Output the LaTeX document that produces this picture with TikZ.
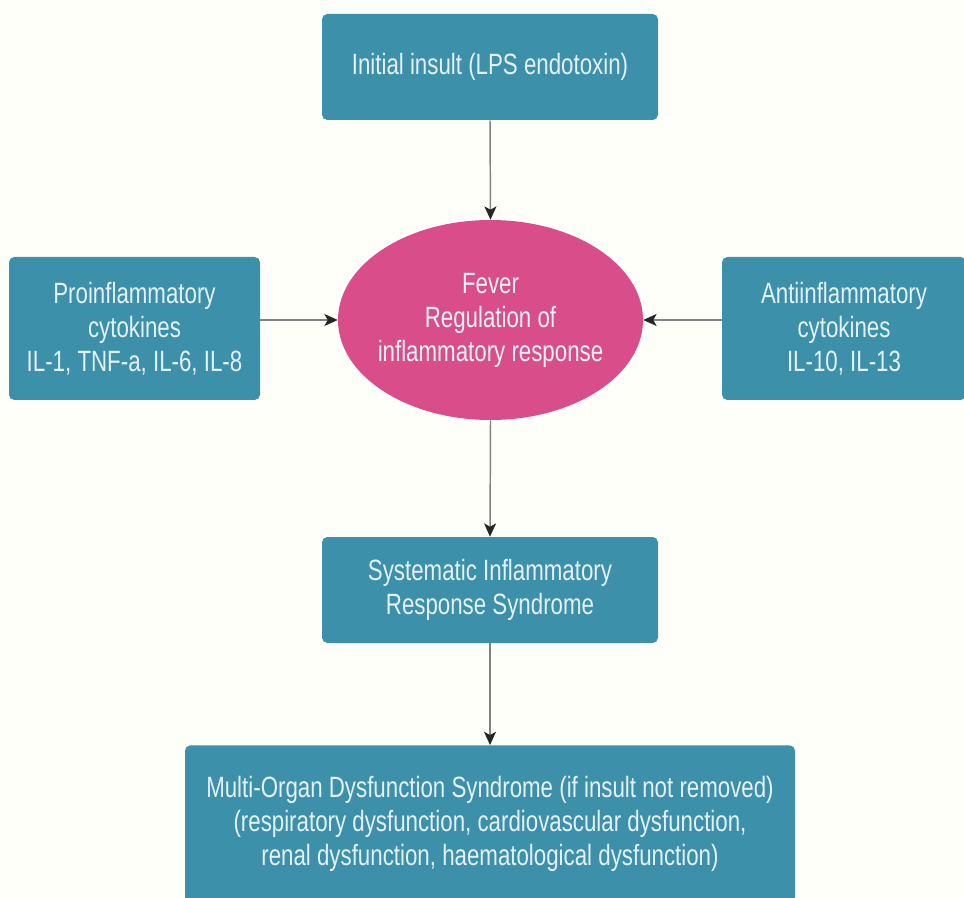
\documentclass[tikz,border=0pt]{standalone}
\usepackage{fontspec}
\setmainfont[FakeStretch=0.76]{Liberation Sans}
\usetikzlibrary{arrows.meta,shapes.geometric}
\definecolor{boxteal}{RGB}{61,144,170}
\definecolor{ovalpink}{RGB}{217,78,138}
\definecolor{labeltext}{RGB}{228,241,245}
\definecolor{linkgray}{RGB}{130,130,130}
\begin{document}
\begin{tikzpicture}[x=0.75pt,y=-0.75pt,
  stagebox/.style={fill=boxteal, rounded corners=4pt, text=labeltext, align=center,
    font=\fontsize{22}{25.5}\selectfont, inner sep=0pt},
  hub/.style={ellipse, fill=ovalpink, inner sep=0pt},
  hubtext/.style={text=labeltext, align=center,
    font=\fontsize{22}{25.5}\selectfont, inner sep=0pt},
  link/.style={draw=linkgray, line width=1.1pt,
    -{Stealth[length=10pt,width=9pt,inset=2.5pt,color=black!85]}}]
\fill[white!98!yellow] (0,0) rectangle (964,898);
\useasboundingbox (0,0) rectangle (964,898);

\node[stagebox, minimum width=252pt, minimum height=79.5pt] (insult) at (490,67)
  {Initial insult (LPS endotoxin)};
\node[stagebox, minimum width=188.25pt, minimum height=107.25pt] (pro) at (134.5,328.5)
  {Proinflammatory\\cytokines\\IL-1, TNF-a, IL-6, IL-8};
\node[stagebox, minimum width=183pt, minimum height=107.25pt] (anti) at (844,328.5)
  {Antiinflammatory\\cytokines\\IL-10, IL-13};
% central oval, its label set on top so the text does not widen the shape
\node[hub, minimum width=228.75pt, minimum height=150pt] (fever) at (490.5,320) {};
\node[hubtext] (feverlabel) at (fever.center)
  {Fever\\Regulation of\\inflammatory response};
\node[stagebox, minimum width=252pt, minimum height=79.5pt] (sirs) at (490,590)
  {Systematic Inflammatory\\Response Syndrome};
\node[stagebox, minimum width=457.5pt, minimum height=118pt] (mods) at (490,824)
  {Multi-Organ Dysfunction Syndrome (if insult not removed)\\
   (respiratory dysfunction, cardiovascular dysfunction,\\
   renal dysfunction, haematological dysfunction)};

\draw[link] (insult.south) -- (fever.north);
\draw[link] (pro.east |- fever.west) -- (fever.west);
\draw[link] (anti.west |- fever.east) -- (fever.east);
\draw[link] (fever.south) -- (sirs.north);
\draw[link] (sirs.south) -- (mods.north);
\end{tikzpicture}
\end{document}
